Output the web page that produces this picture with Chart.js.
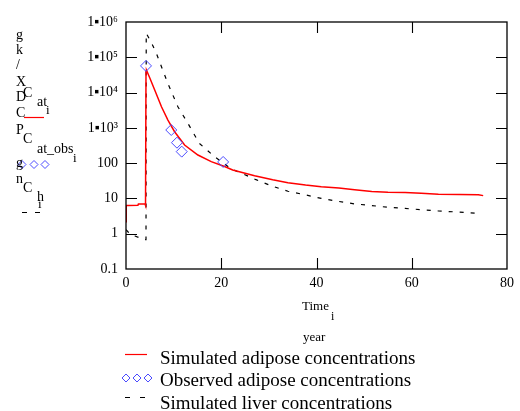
<!DOCTYPE html>
<html>
<head>
<meta charset="utf-8">
<script src="https://cdn.jsdelivr.net/npm/chart.js@4.4.0/dist/chart.umd.min.js"></script>
<style>
  html, body { margin: 0; padding: 0; background: #fff; }
  #wrap { position: relative; width: 520px; height: 411px; overflow: hidden; font-family: "Liberation Serif", "Times New Roman", serif; color: #000; }
  #c { position: absolute; left: 0; top: 0; }
  .t { position: absolute; white-space: nowrap; line-height: 1; transform: translateY(-50%); }
</style>
</head>
<body>
<div id="wrap">
  <canvas id="c" width="520" height="411"></canvas>
</div>
<script>
// ---- data ----
const adiposeTime = [0, 0.05, 0.4, 2.5, 2.6, 4.0, 4.1, 4.2, 4.3, 5.0, 6.05, 7.45, 8.8, 10.2, 12.3, 15.1, 17.9, 20.7, 22.4, 23.8, 27, 30.8, 34, 37.7, 41, 44.7, 48, 51.6, 55, 58.6, 62, 65.6, 70, 74, 75];
const adiposeConc = [2.2, 6.3, 6.3, 6.4, 6.9, 6.9, 6.3, 40000, 43000, 26000, 11700, 3960, 1660, 777, 326, 170, 110, 80, 64, 57, 44, 34, 28, 24, 21.5, 19.6, 17.5, 15.7, 15, 14.7, 14, 13.2, 13, 12.8, 12];
const observedTime = [4.2, 9.5, 10.7, 11.7, 20.4];
const observedConc = [57000, 870, 380, 212, 108];
const liverTime = [0, 0.5, 1, 2, 3, 4, 4.2, 4.25, 5.4, 6.4, 8.8, 10.9, 13, 15.4, 18.6, 20.7, 22, 24.5, 27.3, 30.8, 34, 37.7, 41, 44.7, 48, 51.6, 55, 58.6, 62, 65.6, 70, 73.6];
const liverConc = [1.3, 1.1, 0.95, 0.85, 0.75, 0.68, 0.68, 480000, 250000, 127000, 18000, 3960, 1340, 364, 152, 95, 70, 50, 34, 22, 16, 12.6, 10, 8.2, 7, 6.3, 5.6, 5.2, 4.8, 4.4, 4.1, 3.8];
const xTickValues = [0, 20, 40, 60, 80];
const yTickValues = [0.1, 1, 10, 100, 1000, 10000, 100000, 1000000];
const yTickLabels = ["0.1", "1", "10", "100", "1\u25AA10\u00B3", "1\u25AA10\u2074", "1\u25AA10\u2075", "1\u25AA10\u2076"];
const legendLabels = ["Simulated adipose concentrations", "Observed adipose concentrations", "Simulated liver concentrations"];
const unitLetters = ["g", "k", "/", "X", "D", "C", "P", "g", "n"];

const toXY = (xs, ys) => xs.map((x, i) => ({ x: x, y: ys[i] }));

const RED = "#ff0000", BLUE = "#4a4aff", BLACK = "#000000";

// frame, inward ticks and legend glyphs
const decor = {
  id: "decor",
  afterDraw(chart) {
    const ctx = chart.ctx, a = chart.chartArea;
    const xs = chart.scales.x, ys = chart.scales.y;
    const L = 11;
    ctx.save();
    ctx.strokeStyle = "#000";
    ctx.lineWidth = 1.3;
    ctx.strokeRect(a.left, a.top, a.right - a.left, a.bottom - a.top);
    ctx.lineWidth = 1.1;
    ctx.beginPath();
    xTickValues.forEach(v => {
      const p = Math.round(xs.getPixelForValue(v)) + 0.5;
      if (v === xs.min || v === xs.max) return;
      ctx.moveTo(p, a.bottom); ctx.lineTo(p, a.bottom - L);
      ctx.moveTo(p, a.top); ctx.lineTo(p, a.top + L);
    });
    yTickValues.forEach(v => {
      const p = Math.round(ys.getPixelForValue(v)) + 0.5;
      if (v === ys.min || v === ys.max) return;
      ctx.moveTo(a.left, p); ctx.lineTo(a.left + L, p);
      ctx.moveTo(a.right, p); ctx.lineTo(a.right - L, p);
    });
    ctx.stroke();

    // legend glyphs
    ctx.strokeStyle = RED; ctx.lineWidth = 1.2;
    ctx.beginPath(); ctx.moveTo(24, 117.5); ctx.lineTo(44, 117.5); ctx.stroke();
    ctx.beginPath(); ctx.moveTo(125, 354.5); ctx.lineTo(147, 354.5); ctx.stroke();
    const diamond = (cx, cy, r) => {
      ctx.beginPath();
      ctx.moveTo(cx, cy - r); ctx.lineTo(cx + r, cy); ctx.lineTo(cx, cy + r); ctx.lineTo(cx - r, cy); ctx.closePath();
      ctx.stroke();
    };
    ctx.strokeStyle = BLUE; ctx.lineWidth = 1;
    [22, 34, 45].forEach(cx => diamond(cx, 164.5, 4));
    [126, 137, 148].forEach(cx => diamond(cx, 378, 4));
    ctx.strokeStyle = BLACK; ctx.lineWidth = 1;
    ctx.beginPath();
    ctx.moveTo(22, 212.5); ctx.lineTo(27, 212.5);
    ctx.moveTo(35, 212.5); ctx.lineTo(40, 212.5);
    ctx.moveTo(125, 397.5); ctx.lineTo(130, 397.5);
    ctx.moveTo(140, 397.5); ctx.lineTo(145, 397.5);
    ctx.stroke();
    ctx.restore();
  }
};

new Chart(document.getElementById("c"), {
  type: "scatter",
  data: {
    datasets: [
      { label: legendLabels[0], data: toXY(adiposeTime, adiposeConc), showLine: true, borderColor: RED, borderWidth: 1.5, pointRadius: 0, tension: 0, order: 2 },
      { label: legendLabels[1], data: toXY(observedTime, observedConc), showLine: false, pointStyle: "rectRot", pointRadius: 5.5, borderColor: BLUE, backgroundColor: "rgba(0,0,0,0)", borderWidth: 1, order: 1 },
      { label: legendLabels[2], data: toXY(liverTime, liverConc), showLine: true, borderColor: BLACK, borderWidth: 1.2, borderDash: [4, 7], pointRadius: 0, tension: 0, order: 3 }
    ]
  },
  options: {
    responsive: false,
    animation: false,
    events: [],
    layout: { padding: { left: 0, top: 22, right: 11, bottom: 0 } },
    plugins: { legend: { display: false }, tooltip: { enabled: false } },
    scales: {
      x: {
        type: "linear", min: 0, max: 80,
        afterBuildTicks: s => { s.ticks = xTickValues.map(v => ({ value: v })); },
        afterFit: s => { s.height = 142; },
        grid: { display: false, drawTicks: false },
        border: { display: false },
        ticks: { color: "#000", font: { family: "Liberation Serif", size: 14 }, padding: 6, maxRotation: 0, autoSkip: false }
      },
      y: {
        type: "logarithmic", min: 0.1, max: 1000000,
        afterBuildTicks: s => { s.ticks = yTickValues.map(v => ({ value: v })); },
        afterFit: s => { s.width = 126; },
        grid: { display: false, drawTicks: false },
        border: { display: false },
        ticks: {
          color: "#000", font: { family: "Liberation Serif", size: 14 }, padding: 8, autoSkip: false,
          callback: (v) => { const i = yTickValues.findIndex(t => Math.abs(t - v) / t < 1e-6); return i >= 0 ? yTickLabels[i] : ""; }
        }
      }
    }
  },
  plugins: [decor]
});

// ---- real-text labels ----
const wrap = document.getElementById("wrap");
function addText(txt, x, y, size, extra) {
  const d = document.createElement("div");
  d.className = "t";
  d.textContent = txt;
  d.style.left = x + "px";
  d.style.top = y + "px";
  d.style.fontSize = size + "px";
  if (extra) Object.assign(d.style, extra);
  wrap.appendChild(d);
  return d;
}
// stacked unit letters of the y-axis title
const unitY = [35, 50, 65, 82, 97, 113, 130, 163, 179];
unitLetters.forEach((ch, i) => addText(ch, 16, unitY[i], 14));
// stacked left legend names
addText("C", 23, 93, 14); addText("at", 37, 102, 14); addText("i", 46, 109, 13);
addText("C", 23, 139, 14); addText("at_obs", 37, 149, 14); addText("i", 73, 157, 13);
addText("C", 23, 188, 14); addText("h", 37, 197, 14); addText("i", 38, 203, 13);
// x-axis title
addText("Time", 302, 305, 13); addText("i", 331, 316, 12); addText("year", 303, 336, 13);
// bottom legend
addText(legendLabels[0], 160, 357, 19);
addText(legendLabels[1], 160, 379, 19);
addText(legendLabels[2], 160, 402, 19);
</script>
</body>
</html>
